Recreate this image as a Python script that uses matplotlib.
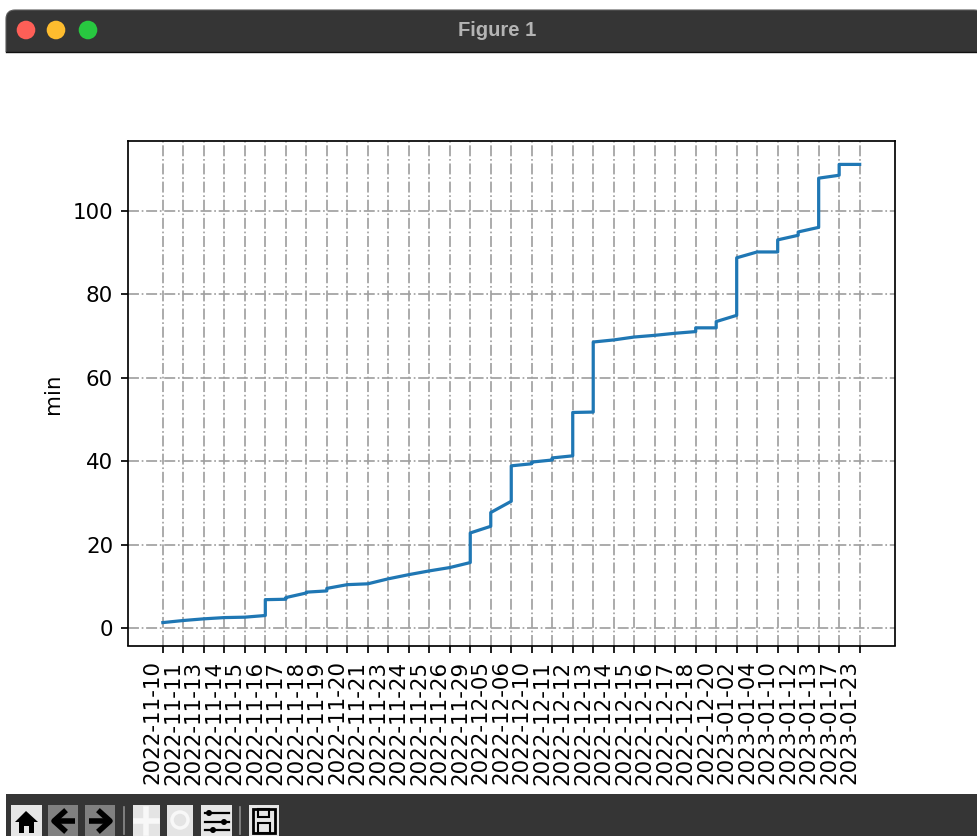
import matplotlib
matplotlib.use("Agg")
import matplotlib.pyplot as plt
from matplotlib.patches import Circle, FancyBboxPatch, Polygon, Rectangle

# every date shows up twice where the total jumps on that day
dates = [
    "2022-11-10", "2022-11-11", "2022-11-13", "2022-11-14", "2022-11-15",
    "2022-11-16", "2022-11-16",
    "2022-11-17", "2022-11-17",
    "2022-11-18", "2022-11-18",
    "2022-11-19", "2022-11-19",
    "2022-11-20", "2022-11-21", "2022-11-23", "2022-11-24", "2022-11-25", "2022-11-26",
    "2022-11-29", "2022-11-29",
    "2022-12-05", "2022-12-05",
    "2022-12-06", "2022-12-06",
    "2022-12-10", "2022-12-10",
    "2022-12-11", "2022-12-11",
    "2022-12-12", "2022-12-12",
    "2022-12-13", "2022-12-13",
    "2022-12-14", "2022-12-15", "2022-12-16", "2022-12-17",
    "2022-12-18", "2022-12-18",
    "2022-12-20", "2022-12-20",
    "2023-01-02", "2023-01-02",
    "2023-01-04",
    "2023-01-10", "2023-01-10",
    "2023-01-12", "2023-01-12",
    "2023-01-13", "2023-01-13",
    "2023-01-17", "2023-01-17",
    "2023-01-23",
]
minutes = [
    1.3, 1.8, 2.2, 2.5, 2.6,
    3.0, 6.8,
    6.9, 7.3,
    8.4, 8.6,
    8.9, 9.5,
    10.4, 10.6, 11.8, 12.8, 13.7, 14.5,
    15.7, 22.8,
    24.4, 27.7,
    30.4, 38.9,
    39.4, 39.8,
    40.3, 40.8,
    41.3, 51.7,
    51.8, 68.6,
    69.1, 69.8, 70.2, 70.7,
    71.1, 72.0,
    72.0, 73.5,
    75.0, 88.8,
    90.2,
    90.2, 93.1,
    94.2, 95.0,
    96.1, 107.9,
    108.6, 111.2,
    111.2,
]

# the window was 640x480 at a scale of about 1.54
SCALE = 1.54
W, H = 977, 836
CHROME = "#353535"

fig = plt.figure(figsize=(W / 100, H / 100), dpi=100)

# window chrome, drawn in pixel coordinates
bg = fig.add_axes([0, 0, 1, 1])
bg.set_xlim(0, W)
bg.set_ylim(H, 0)
bg.axis("off")

bg.add_patch(FancyBboxPatch((6, 10), W, 60, boxstyle="round,pad=0,rounding_size=9",
                            fc=CHROME, ec="#5a5a5a", lw=0.8))
bg.add_patch(Rectangle((4, 52), W, 742, fc="white", ec="none"))
bg.add_patch(Rectangle((6, 794), W, 42, fc=CHROME, ec="none"))
bg.plot([6, W], [52, 52], color="#111111", lw=1)

for cx, col in zip([26, 56, 88], ["#ff5f57", "#febc2e", "#28c840"]):
    bg.add_patch(Circle((cx, 30), 9.3, fc=col, ec="none"))
bg.text(497, 30, "Figure 1", color="#b4b4b4", fontsize=14.5, fontweight="bold",
        ha="center", va="center", family="Liberation Sans")

# toolbar buttons
buttons = [(11, 31, "#e6e6e6"), (48, 30, "#808080"), (85, 30, "#808080"),
           (133, 27, "#e4e4e4"), (167, 26, "#e4e4e4"), (201, 31, "#e6e6e6"),
           (249, 30, "#e6e6e6")]
for bx, bw, col in buttons:
    bg.add_patch(Rectangle((bx, 805), bw, 31, fc=col, ec="none"))
for sx in [124, 240]:
    bg.plot([sx, sx], [807, 834], color="#8c8c8c", lw=1.2)

# home
bg.add_patch(Polygon([(15, 822), (26, 811), (38, 822)], fc="black", ec="none"))
bg.add_patch(Rectangle((19, 822), 15, 11, fc="black", ec="none"))
bg.add_patch(Rectangle((24, 826), 5, 7, fc="#e6e6e6", ec="none"))
# back / forward
bg.plot([75, 55], [821, 821], color="black", lw=4, solid_capstyle="butt")
bg.plot([64, 54, 64], [812, 821, 830], color="black", lw=4)
bg.plot([89, 109], [821, 821], color="black", lw=4, solid_capstyle="butt")
bg.plot([100, 110, 100], [812, 821, 830], color="black", lw=4)
# pan / zoom, almost washed out in the screenshot
bg.plot([146, 146], [809, 833], color="#f8f8f8", lw=4)
bg.plot([136, 157], [821, 821], color="#f8f8f8", lw=4)
bg.add_patch(Circle((180, 820), 8, fc="none", ec="#f8f8f8", lw=2.5))
# sliders
for sy, kx in zip([813, 822, 830], [209, 224, 213]):
    bg.plot([205, 229], [sy, sy], color="black", lw=1.6)
    bg.add_patch(Circle((kx, sy), 3, fc="black", ec="none"))
# save
bg.add_patch(Rectangle((253, 809), 22, 24, fc="none", ec="black", lw=2))
bg.add_patch(Rectangle((258, 809), 11, 8, fc="none", ec="black", lw=1.5))
bg.add_patch(Rectangle((258, 823), 12, 10, fc="none", ec="black", lw=1.5))

# the chart itself
ax = fig.add_axes([128 / W, 1 - 645.5 / H, (894.5 - 128) / W, (645.5 - 141.5) / H])
ax.plot(dates, minutes, color="#1f77b4", lw=1.5 * SCALE)
ax.set_ylabel("min", fontsize=10 * SCALE, labelpad=7)
ax.grid(True, linestyle="-.", color="#a0a0a0", lw=0.8 * SCALE)
ax.set_axisbelow(True)
ax.tick_params(axis="both", labelsize=10 * SCALE, width=0.8 * SCALE,
               length=3.5 * SCALE, pad=3.5 * SCALE)
plt.setp(ax.get_xticklabels(), rotation=90, ha="right", rotation_mode="default")
for spine in ax.spines.values():
    spine.set_linewidth(0.8 * SCALE)

fig.savefig("out.png", dpi=100)
